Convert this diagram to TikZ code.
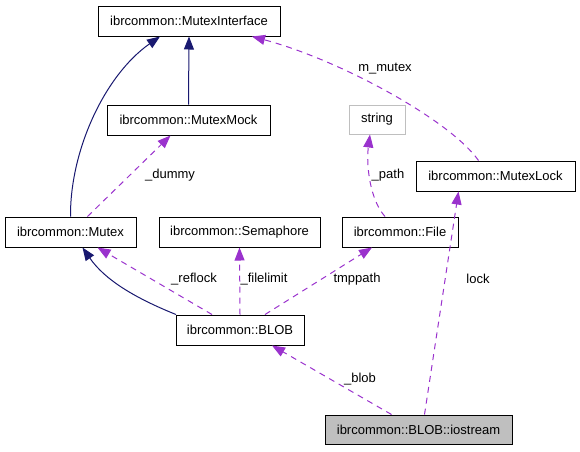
\documentclass[tikz,border=0pt]{standalone}
\usepackage{fontspec}
\setmainfont{Liberation Sans}
\usetikzlibrary{arrows.meta}
\definecolor{navyline}{RGB}{25,25,112}
\definecolor{usedby}{RGB}{154,50,205}
\definecolor{boxgray}{RGB}{191,191,191}
\begin{document}
\begin{tikzpicture}[x=1pt,y=-1pt,
    font=\fontsize{13}{15}\selectfont,
    cls/.style={draw=black,line width=1pt,minimum height=30pt,inner sep=0pt},
    inherit/.style={navyline,line width=1pt,-{Triangle[length=13pt,width=10pt]}},
    member/.style={usedby,line width=1pt,dash pattern=on 6pt off 5pt,-{Triangle[length=13pt,width=10pt]}},
    lbl/.style={inner sep=0pt,text=black}]
    \useasboundingbox (0,0) rectangle (580,451);
    % classes
    \node[cls,minimum width=182pt] (iface) at (189,21) {ibrcommon::MutexInterface};
    \node[cls,minimum width=163pt] (mock) at (188.5,120) {ibrcommon::MutexMock};
    \node[cls,draw=boxgray,minimum width=56pt,minimum height=29pt] (str) at (377,119.5) {string};
    \node[cls,minimum width=159pt] (lock) at (495.5,176) {ibrcommon::MutexLock};
    \node[cls,minimum width=131pt] (mutex) at (70.5,232) {ibrcommon::Mutex};
    \node[cls,minimum width=161pt] (sema) at (239.5,232) {ibrcommon::Semaphore};
    \node[cls,minimum width=116pt] (file) at (400,232) {ibrcommon::File};
    \node[cls,minimum width=128pt] (blob) at (240,330) {ibrcommon::BLOB};
    \node[cls,fill=boxgray,minimum width=187pt,minimum height=29pt] (ios) at (418.5,429.5) {ibrcommon::BLOB::iostream};
    % inheritance
    \draw[inherit] (mutex.north) .. controls (70,150) and (105,75) .. ([xshift=-29pt]iface.south);
    \draw[inherit] (mock.north) -- (iface.south);
    \draw[inherit] ([xshift=-64pt]blob.north) .. controls (135,298) and (105,280) .. ([xshift=12pt]mutex.south);
    % members
    \draw[member] ([xshift=17pt]mutex.north) -- ([xshift=-18pt]mock.south);
    \node[lbl] (l1) at (170,175) {\_dummy};
    \draw[member] ([xshift=-17pt]lock.north) .. controls (450,120) and (340,60) .. ([xshift=63pt]iface.south);
    \node[lbl] (l2) at (385,69) {m\_mutex};
    \draw[member] ([xshift=-15pt]file.north) .. controls (370,200) and (366,165) .. ([xshift=-7pt]str.south);
    \node[lbl] (l3) at (388,175) {\_path};
    \draw[member] ([xshift=-28pt]blob.north) -- ([xshift=27pt]mutex.south);
    \node[lbl] (l4) at (194,279) {\_reflock};
    \draw[member] (blob.north) -- (sema.south);
    \node[lbl] (l5) at (264,279) {\_filelimit};
    \draw[member] ([xshift=25pt]blob.north) -- ([xshift=-28pt]file.south);
    \node[lbl] (l6) at (357,279) {tmppath};
    \draw[member] ([xshift=-27pt]ios.north) -- ([xshift=32pt]blob.south);
    \node[lbl] (l7) at (360,379) {\_blob};
    \draw[member] ([xshift=6pt]ios.north) -- ([xshift=-37pt]lock.south);
    \node[lbl] (l8) at (478,279) {lock};
\end{tikzpicture}
\end{document}
